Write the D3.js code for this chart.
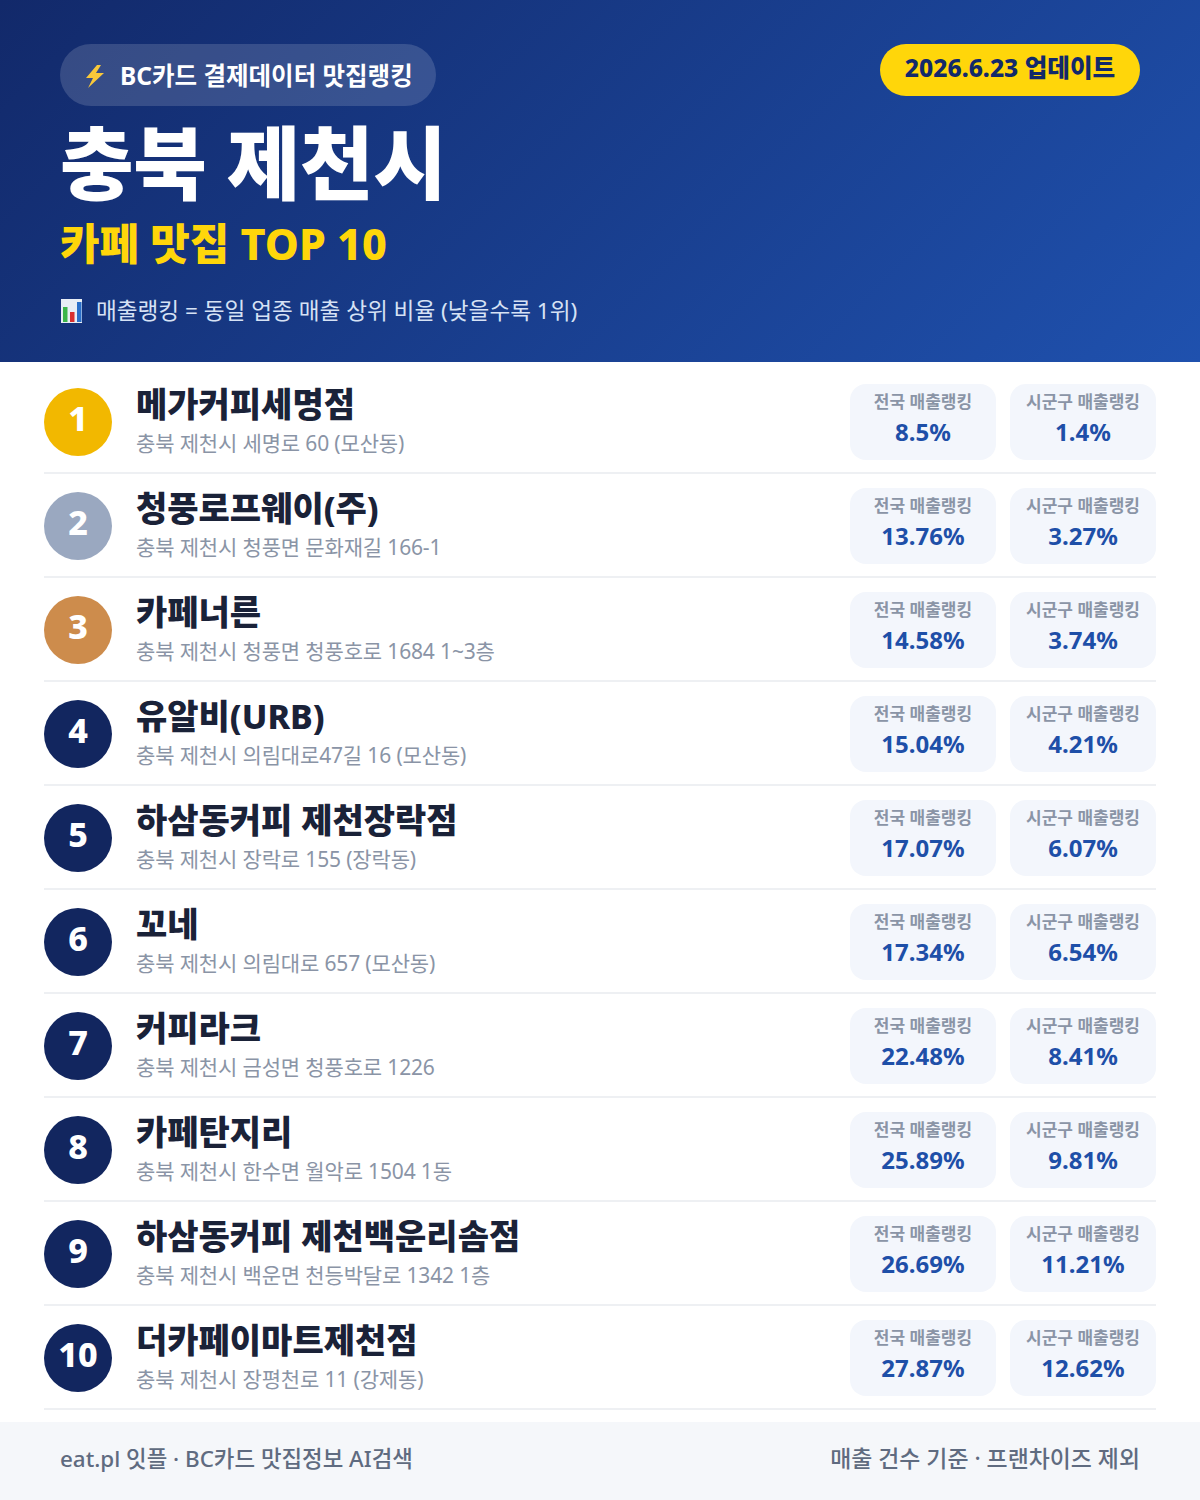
<!DOCTYPE html>
<html lang="ko">
<head>
<meta charset="utf-8">
<script src="https://cdn.jsdelivr.net/npm/d3@7"></script>
<style>
  html, body { margin: 0; padding: 0; background: #fff; }
  svg { display: block; }
  text { font-family: "Noto Sans", "Noto Sans CJK KR", sans-serif; }
</style>
</head>
<body>
<div id="chart"></div>
<script>
// data
const ranks = [1, 2, 3, 4, 5, 6, 7, 8, 9, 10];
const names = ["메가커피세명점", "청풍로프웨이(주)", "카페너른", "유알비(URB)", "하삼동커피 제천장락점", "꼬네", "커피라크", "카페탄지리", "하삼동커피 제천백운리솜점", "더카페이마트제천점"];
const addresses = ["충북 제천시 세명로 60 (모산동)", "충북 제천시 청풍면 문화재길 166-1", "충북 제천시 청풍면 청풍호로 1684 1~3층", "충북 제천시 의림대로47길 16 (모산동)", "충북 제천시 장락로 155 (장락동)", "충북 제천시 의림대로 657 (모산동)", "충북 제천시 금성면 청풍호로 1226", "충북 제천시 한수면 월악로 1504 1동", "충북 제천시 백운면 천등박달로 1342 1층", "충북 제천시 장평천로 11 (강제동)"];
const nationalRank = ["8.5%", "13.76%", "14.58%", "15.04%", "17.07%", "17.34%", "22.48%", "25.89%", "26.69%", "27.87%"];
const localRank = ["1.4%", "3.27%", "3.74%", "4.21%", "6.07%", "6.54%", "8.41%", "9.81%", "11.21%", "12.62%"];
const pillLabels = ["전국 매출랭킹", "시군구 매출랭킹"];

const width = 1200, height = 1500;
const svg = d3.select("#chart").append("svg")
    .attr("width", width).attr("height", height)
    .attr("viewBox", `0 0 ${width} ${height}`);

// header background
const defs = svg.append("defs");
const grad = defs.append("linearGradient").attr("id", "headerGrad")
    .attr("gradientUnits", "userSpaceOnUse")
    .attr("x1", 209.5).attr("y1", -209.5).attr("x2", 990.5).attr("y2", 571.5);
grad.append("stop").attr("offset", "0%").attr("stop-color", "#12296a");
grad.append("stop").attr("offset", "100%").attr("stop-color", "#1f51ae");

svg.append("rect").attr("width", width).attr("height", 362).attr("fill", "url(#headerGrad)");

function label(parent, x, y, str, size, weight, fill, anchor, spacing) {
    return parent.append("text")
        .attr("x", x).attr("y", y)
        .attr("font-size", size).attr("font-weight", weight)
        .attr("fill", fill).attr("text-anchor", anchor || "start")
        .attr("letter-spacing", spacing || 0)
        .text(str);
}

// badge top left
svg.append("rect").attr("x", 60).attr("y", 44).attr("width", 376).attr("height", 62).attr("rx", 31)
    .attr("fill", "#fff").attr("fill-opacity", 0.15);
svg.append("path").attr("d", "M97 65 L86 78 L93 78 L88 88 L104 73 L96 73 L101 65 Z").attr("fill", "#f9c83a");
label(svg, 120, 85, "BC카드 결제데이터 맛집랭킹", 24.5, 700, "#fff");

// date badge
svg.append("rect").attr("x", 880).attr("y", 44).attr("width", 260).attr("height", 52).attr("rx", 26).attr("fill", "#ffd60a");
label(svg, 1010, 77, "2026.6.23 업데이트", 24.6, 800, "#12296a", "middle");

// titles
label(svg, 60, 193, "충북 제천시", 80, 900, "#fff", "start", -0.4);
label(svg, 60, 260, "카페 맛집 TOP 10", 43, 800, "#ffd60a");

// small bar chart icon in front of the note
const icon = svg.append("g");
icon.append("rect").attr("x", 61).attr("y", 299).attr("width", 21).attr("height", 24).attr("fill", "#e8eef5");
icon.append("rect").attr("x", 63).attr("y", 307).attr("width", 4.5).attr("height", 15).attr("fill", "#3cb54a");
icon.append("rect").attr("x", 70).attr("y", 312).attr("width", 4.5).attr("height", 10).attr("fill", "#d8302f");
icon.append("rect").attr("x", 77).attr("y", 302).attr("width", 4.5).attr("height", 20).attr("fill", "#2a6fc9");
label(svg, 96, 319, "매출랭킹 = 동일 업종 매출 상위 비율 (낮을수록 1위)", 22.6, 400, "#d6e2f5");

// rows
const rowScale = d3.scaleBand().domain(ranks).range([370, 1410]);
const colors = d3.scaleOrdinal().domain([1, 2, 3]).range(["#f2b800", "#9aa8c0", "#cd8c4c"]).unknown("#12265f");

const rows = svg.selectAll("g.row").data(ranks).join("g")
    .attr("class", "row")
    .attr("transform", d => `translate(0,${rowScale(d)})`);

rows.append("circle").attr("cx", 78).attr("cy", 52).attr("r", 34).attr("fill", d => colors(d));
rows.append("text").attr("x", 78).attr("y", 61)
    .attr("text-anchor", "middle").attr("font-size", 34).attr("font-weight", 800).attr("fill", "#fff")
    .text(d => d);
rows.append("text").attr("x", 136).attr("y", 47)
    .attr("font-size", 34).attr("font-weight", 800).attr("fill", "#1a2238")
    .text((d, i) => names[i]);
rows.append("text").attr("x", 136).attr("y", 81)
    .attr("font-size", 21).attr("font-weight", 400).attr("fill", "#8a94a6").attr("letter-spacing", -0.15)
    .text((d, i) => addresses[i]);
rows.append("rect").attr("x", 44).attr("y", 102).attr("width", 1112).attr("height", 2).attr("fill", "#eef0f3");

// the two ranking pills of each row
[[850, nationalRank], [1010, localRank]].forEach(([x, values], k) => {
    rows.append("rect").attr("x", x).attr("y", 14).attr("width", 146).attr("height", 76).attr("rx", 16).attr("fill", "#f3f6fc");
    rows.append("text").attr("x", x + 73).attr("y", 37.5)
        .attr("text-anchor", "middle").attr("font-size", 17).attr("font-weight", 600).attr("fill", "#8a94a6")
        .text(pillLabels[k]);
    rows.append("text").attr("x", x + 73).attr("y", 70.5)
        .attr("text-anchor", "middle").attr("font-size", 24).attr("font-weight", 700).attr("fill", "#1e4fa8")
        .text((d, i) => values[i]);
});

// footer
svg.append("rect").attr("y", 1422).attr("width", width).attr("height", 78).attr("fill", "#f5f7fa");
label(svg, 60, 1467, "eat.pl 잇플 · BC카드 맛집정보 AI검색", 22.4, 500, "#5f6b80");
label(svg, 1140, 1467, "매출 건수 기준 · 프랜차이즈 제외", 22.9, 500, "#5f6b80", "end");
</script>
</body>
</html>
